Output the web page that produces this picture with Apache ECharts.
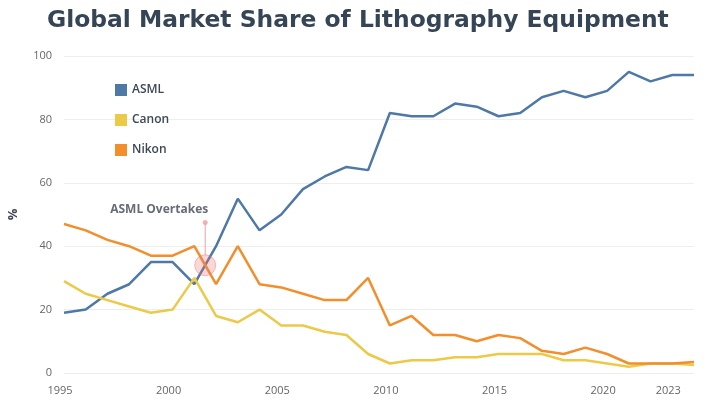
<!DOCTYPE html>
<html>
<head>
<meta charset="utf-8">
<script src="https://cdn.jsdelivr.net/npm/echarts@6/dist/echarts.min.js"></script>
<style>
  html, body { margin: 0; padding: 0; background: #fff; }
  #chart { width: 703px; height: 405px; }
</style>
</head>
<body>
<div id="chart"></div>
<script>
const years = [1995, 1996, 1997, 1998, 1999, 2000, 2001, 2002, 2003, 2004,
  2005, 2006, 2007, 2008, 2009, 2010, 2011, 2012, 2013, 2014,
  2015, 2016, 2017, 2018, 2019, 2020, 2021, 2022, 2023, 2024]
const asml = [19, 20, 25, 28, 35, 35, 28, 40, 55, 45,
  50, 58, 62, 65, 64, 82, 81, 81, 85, 84,
  81, 82, 87, 89, 87, 89, 95, 92, 94, 94]
const canon = [29, 25, 23, 21, 19, 20, 30, 18, 16, 20,
  15, 15, 13, 12, 6, 3, 4, 4, 5, 5,
  6, 6, 6, 4, 4, 3, 2, 3, 3, 2.5]
const nikon = [47, 45, 42, 40, 37, 37, 40, 28, 40, 28,
  27, 25, 23, 23, 30, 15, 18, 12, 12, 10,
  12, 11, 7, 6, 8, 6, 3, 3, 3, 3.5]
const xTickLabels = [1995, 2000, 2005, 2010, 2015, 2020, 2023]
const yTicks = [0, 20, 40, 60, 80, 100]

// annotation: where ASML crosses Nikon
const overtakePoint = [2001.5, 34]
const overtakeStemTop = 47.5
const overtakeLabel = 'ASML Overtakes'

const pairs = vals => years.map((y, i) => [y, vals[i]])

const chart = echarts.init(document.getElementById('chart'))

const lineSeries = (name, vals, color) => ({
  name: name,
  type: 'line',
  data: pairs(vals),
  symbol: 'none',
  lineStyle: { width: 2.5, color: color },
  itemStyle: { color: color },
  z: 3
})

const option = {
  animation: false,
  textStyle: { fontFamily: 'Open Sans' },
  title: {
    text: 'Global Market Share of Lithography Equipment',
    left: 42,
    top: 4,
    textStyle: {
      fontFamily: 'DejaVu Sans',
      fontSize: 23.4,
      fontWeight: 'bold',
      color: '#364556'
    }
  },
  legend: {
    orient: 'vertical',
    left: 110,
    top: 79,
    itemWidth: 12,
    itemHeight: 12,
    itemGap: 18,
    icon: 'rect',
    data: ['ASML', 'Canon', 'Nikon'],
    textStyle: { fontSize: 12, fontWeight: 600, color: '#3d4756' }
  },
  grid: { left: 64, right: 9, top: 56, bottom: 32, outerBoundsMode: 'none' },
  xAxis: {
    type: 'value',
    min: 1995,
    max: 2024,
    axisLine: { show: false },
    axisTick: { show: false },
    splitLine: { show: false },
    axisLabel: {
      customValues: xTickLabels,
      formatter: v => String(v),
      color: '#666',
      fontSize: 11,
      margin: 12,
      padding: [0, 8, 0, 0]
    }
  },
  yAxis: {
    type: 'value',
    min: 0,
    max: 100,
    interval: 20,
    name: '%',
    nameLocation: 'middle',
    nameRotate: 90,
    nameGap: 44,
    nameTextStyle: { fontSize: 13, fontWeight: 'bold', color: '#3d4756' },
    axisLine: { show: false },
    axisTick: { show: false },
    axisLabel: {
      customValues: yTicks,
      color: '#666',
      fontSize: 11,
      margin: 12
    },
    splitLine: { lineStyle: { color: '#eeeeee', width: 1 } }
  },
  series: [
    lineSeries('ASML', asml, '#4e79a7'),
    lineSeries('Canon', canon, '#edc948'),
    lineSeries('Nikon', nikon, '#f28e2b'),
    {
      type: 'line',
      data: [[overtakePoint[0], overtakePoint[1] + 3.3], [overtakePoint[0], overtakeStemTop]],
      symbol: 'none',
      lineStyle: { width: 1, color: '#f0a0a0' },
      silent: true,
      z: 4
    },
    {
      type: 'scatter',
      data: [[overtakePoint[0], overtakeStemTop]],
      symbolSize: 5,
      itemStyle: { color: '#f0a0a0' },
      label: {
        show: true,
        formatter: overtakeLabel,
        position: 'top',
        offset: [-46, 1],
        fontSize: 12,
        fontWeight: 'bold',
        color: '#3d4756'
      },
      silent: true,
      z: 4
    },
    {
      type: 'scatter',
      data: [overtakePoint],
      symbolSize: 21,
      itemStyle: {
        color: 'rgba(232, 110, 110, 0.35)',
        borderColor: 'rgba(232, 110, 110, 0.55)',
        borderWidth: 1
      },
      silent: true,
      z: 5
    }
  ]
}

chart.setOption(option)
</script>
</body>
</html>
